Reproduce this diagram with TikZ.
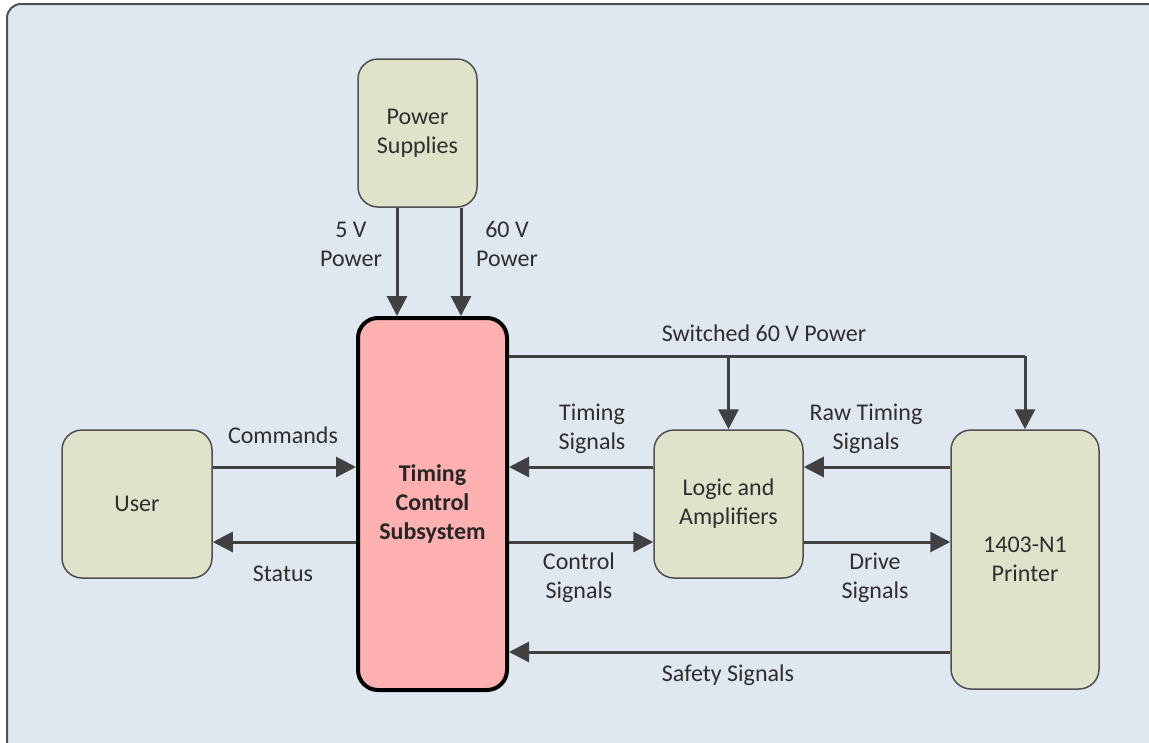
\documentclass[tikz,border=0pt]{standalone}
\usepackage{fontspec}
\setmainfont{Carlito}
\usetikzlibrary{arrows.meta}
\definecolor{bgblue}{HTML}{DFE8F1}
\definecolor{boxfill}{HTML}{DEE3CA}
\definecolor{boxline}{HTML}{4F4F4F}
\definecolor{tcsfill}{HTML}{FFB0B0}
\definecolor{wire}{HTML}{414141}
\definecolor{txt}{HTML}{2E2E2E}
\newcommand{\labelsize}{\fontsize{24}{29}\selectfont}
\tikzset{
  block/.style={draw=boxline, line width=1.5pt, fill=boxfill, rounded corners=20pt,
    align=center, text=txt, inner sep=0pt},
  core/.style={draw=black, line width=4pt, fill=tcsfill, rounded corners=20pt,
    align=center, text=black!85, font=\labelsize\bfseries, inner sep=0pt},
  wirearrow/.style={draw=wire, line width=3pt, -{Triangle[length=20pt,width=20pt]}},
  wireline/.style={draw=wire, line width=3pt},
  lbl/.style={text=txt, align=center, inner sep=0pt},
}
\begin{document}
\begin{tikzpicture}[x=1pt, y=-1pt, font=\labelsize]
\clip (0,0) rectangle (1149,742);
% backdrop panel
\draw[draw=boxline, line width=2pt, fill=bgblue, rounded corners=14pt] (7,4) rectangle (1175,765);

% blocks
\node[block, minimum width=119pt, minimum height=148pt] (ps) at (417.5,133) {Power\\Supplies};
\node[core, minimum width=149pt, minimum height=372pt] (tcs) at (432.5,504) {Timing\\Control\\Subsystem};
\node[block, minimum width=150pt, minimum height=148pt] (user) at (137,504) {User};
\node[block, minimum width=149pt, minimum height=148pt] (logic) at (728.5,504) {Logic and\\Amplifiers};
\node[block, minimum width=148pt, minimum height=259pt] (prn) at (1025,559.5) {1403-N1\\Printer};

% power feeds
\coordinate (p5) at (397,0);
\coordinate (p60) at (461,0);
\draw[wirearrow] (ps.south -| p5) -- (tcs.north -| p5);
\draw[wirearrow] (ps.south -| p60) -- (tcs.north -| p60);
\node[lbl] (l5) at (351,244) {5 V\\Power};
\node[lbl] (l60) at (507,244) {60 V\\Power};

% switched 60 V bus
\coordinate (bus) at (0,356);
\draw[wireline] (tcs.east |- bus) -- (prn.north |- bus);
\draw[wirearrow] (prn.north |- bus) -- (prn.north);
\draw[wirearrow] (logic.north |- bus) -- (logic.north);
\node[lbl] (lsw) at (764,333) {Switched 60 V Power};

% user link
\coordinate (r1) at (0,467);
\coordinate (r2) at (0,542);
\coordinate (r3) at (0,652);
\draw[wirearrow] (user.east |- r1) -- (tcs.west |- r1);
\draw[wirearrow] (tcs.west |- r2) -- (user.east |- r2);
\node[lbl] (lcmd) at (283,435) {Commands};
\node[lbl] (lst) at (283,574) {Status};

% logic link
\draw[wirearrow] (logic.west |- r1) -- (tcs.east |- r1);
\draw[wirearrow] (tcs.east |- r2) -- (logic.west |- r2);
\node[lbl] (ltim) at (592,429) {Timing\\Signals};
\node[lbl] (lctl) at (579,578) {Control\\Signals};

% printer link
\draw[wirearrow] (prn.west |- r1) -- (logic.east |- r1);
\draw[wirearrow] (logic.east |- r2) -- (prn.west |- r2);
\node[lbl] (lraw) at (866,429) {Raw Timing\\Signals};
\node[lbl] (ldrv) at (875,578) {Drive\\Signals};

% safety return
\draw[wirearrow] (prn.west |- r3) -- (tcs.east |- r3);
\node[lbl] (lsaf) at (728,675) {Safety Signals};
\end{tikzpicture}
\end{document}
